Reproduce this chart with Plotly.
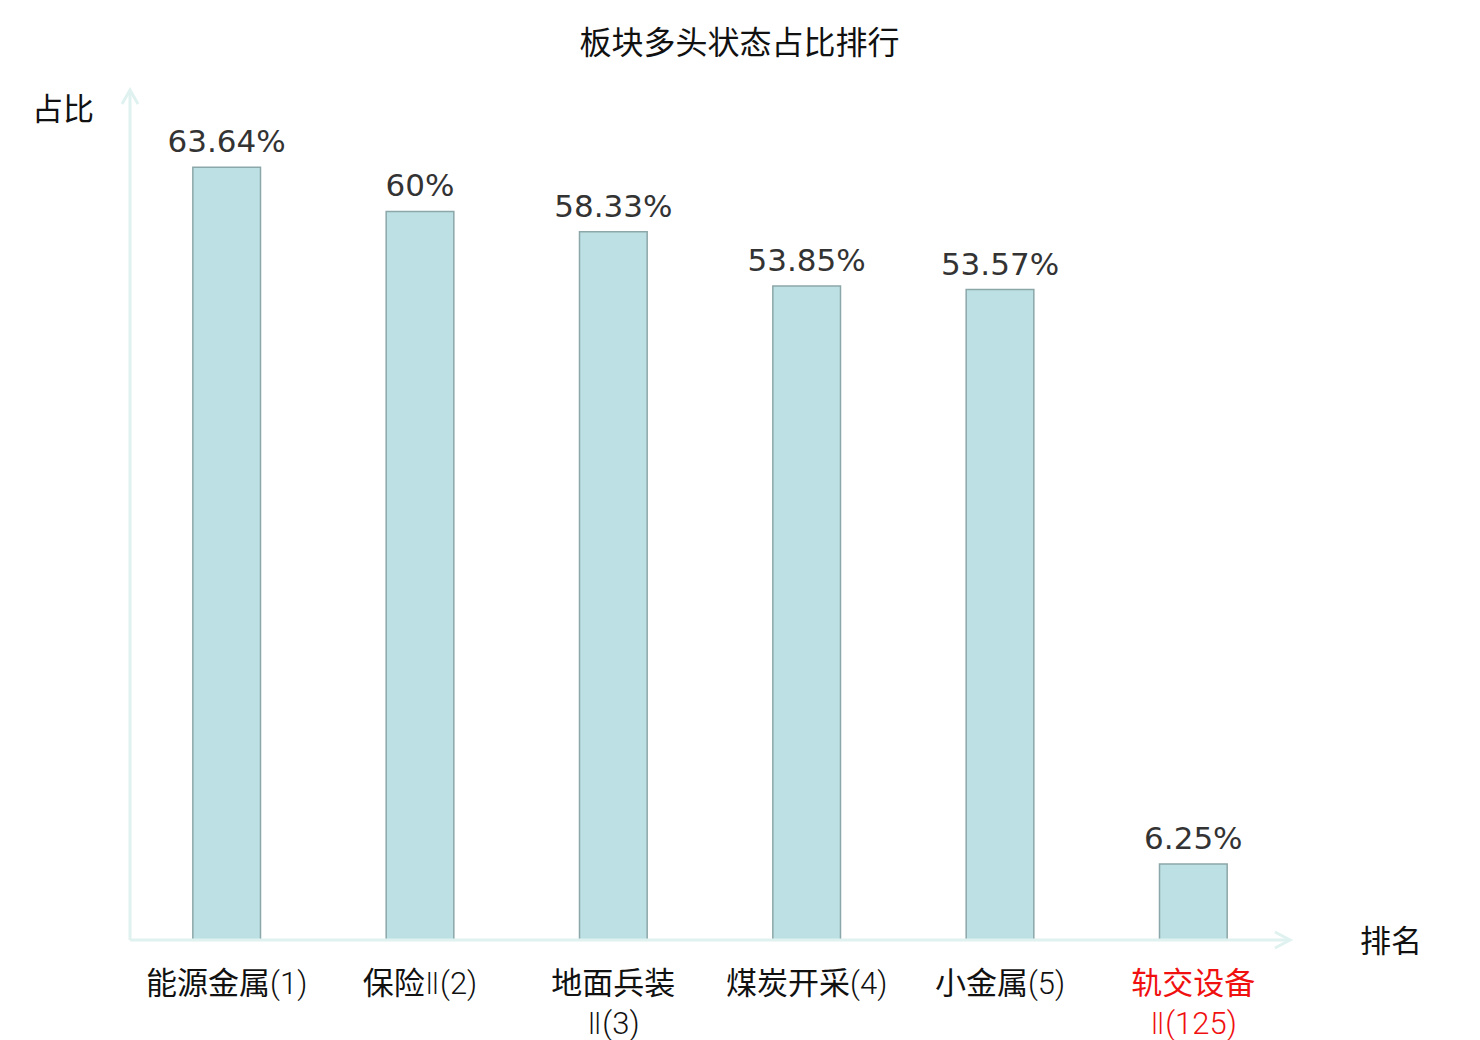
import plotly.graph_objects as go

# 板块多头状态占比
sector_names = ["能源金属", "保险", "地面兵装", "煤炭开采", "小金属", "轨交设备"]
sector_suffix = ["(1)", "Ⅱ(2)", "<br>Ⅱ(3)", "(4)", "(5)", "<br>Ⅱ(125)"]
ratio = [63.64, 60, 58.33, 53.85, 53.57, 6.25]
ratio_text = ["63.64%", "60%", "58.33%", "53.85%", "53.57%", "6.25%"]

cjk = "Noto Sans CJK SC"
axis_col = "#dff2f0"
light = "<span style='font-family:Roboto, DejaVu Sans;font-weight:300'>"

ticktext = []
for i, (n, s) in enumerate(zip(sector_names, sector_suffix)):
    lab = n + s.replace("Ⅱ", light + "Ⅱ</span>").replace("(", light + "(").replace(")", ")</span>")
    if i == len(sector_names) - 1:
        lab = "<span style='color:#f01010'>" + lab + "</span>"
    ticktext.append(lab)

xs = list(range(len(sector_names)))

fig = go.Figure()
fig.add_trace(go.Bar(
    x=xs, y=ratio,
    marker=dict(color="#bce0e3", line=dict(color="#8ca7a9", width=1.5)),
    width=0.35,
))
# value labels, lifted above the bar tops
fig.add_trace(go.Scatter(
    x=xs, y=ratio, mode="markers+text", text=ratio_text, textposition="top center",
    marker=dict(size=10, color="rgba(0,0,0,0)"), cliponaxis=False,
    textfont=dict(family="DejaVu Sans", size=31, color="#333333"), hoverinfo="skip",
))

fig.update_layout(
    width=1480, height=1040,
    plot_bgcolor="white", paper_bgcolor="white",
    margin=dict(l=122, r=198, t=82, b=108),
    showlegend=False,
    title=dict(text="板块多头状态占比排行", x=0.4943, xanchor="center", y=0.967, yanchor="middle",
               font=dict(family=cjk, size=32, color="#111111")),
)
fig.update_xaxes(range=[-0.5, 5.5], tickmode="array", tickvals=xs, ticktext=ticktext,
                 showline=False, showgrid=False, zeroline=False, ticks="", automargin=False,
                 tickfont=dict(family=cjk, size=31, color="#111111"), ticklabelstandoff=22)
fig.update_yaxes(range=[0, 70], showticklabels=False, showgrid=False, zeroline=False, showline=False,
                 automargin=False)

# axis lines with open arrowheads
lw = dict(color=axis_col, width=3)
fig.add_shape(type="line", xref="paper", yref="paper", x0=0, y0=0, x1=1, y1=0, line=lw)
fig.add_shape(type="line", xref="paper", yref="paper", x0=0, y0=0, x1=0, y1=1, line=lw)
fig.add_shape(type="path", xref="paper", yref="paper", line=lw,
              path="M 0.987,0.0094 L 1,0 L 0.987,-0.0094")
fig.add_shape(type="path", xref="paper", yref="paper", line=lw,
              path="M -0.0069,0.9835 L 0,1 L 0.0069,0.9835")

fig.add_annotation(text="占比", xref="paper", yref="paper", x=-0.0578, y=0.981, showarrow=False,
                   xanchor="center", yanchor="middle", font=dict(family=cjk, size=31, color="#111111"))
fig.add_annotation(text="排名", xref="paper", yref="paper", x=1.087, y=0.002, showarrow=False,
                   xanchor="center", yanchor="middle", font=dict(family=cjk, size=31, color="#111111"))

fig.write_html("out.html")
